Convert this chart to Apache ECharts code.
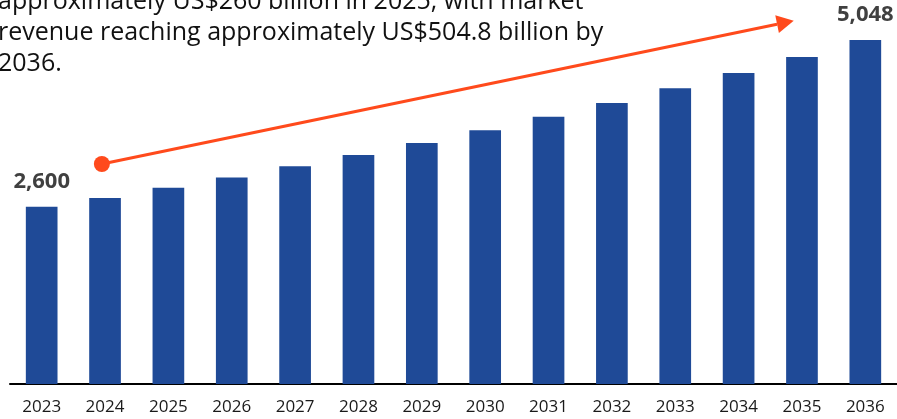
<!DOCTYPE html>
<html>
<head>
<meta charset="utf-8">
<script src="https://cdn.jsdelivr.net/npm/echarts@6/dist/echarts.min.js"></script>
<style>
  html, body { margin: 0; padding: 0; background: #fff; }
  #chart { width: 897px; height: 419px; }
</style>
</head>
<body>
<div id="chart"></div>
<script>
// Market revenue by year (US$100 million)
const years = ['2023', '2024', '2025', '2026', '2027', '2028', '2029',
               '2030', '2031', '2032', '2033', '2034', '2035', '2036'];
const revenue = [2600, 2730, 2880, 3030, 3195, 3360, 3535,
                 3725, 3920, 4125, 4340, 4565, 4800, 5048];
// Values shown as labels on the bars
const labelledYears = ['2023', '2036'];
// Growth arrow endpoints: [category position, value]
const arrowStart = [0.95, 3228];
const arrowEnd = [11.87, 5331];
// Caption lines
const captionLines = [
  'approximately US$260 billion in 2025, with market',
  'revenue reaching approximately US$504.8 billion by',
  '2036.'
];

const FONT = '"Open Sans", "Noto Sans", sans-serif';
const ARROW_COLOR = '#ff4a1c';
const fmt = v => String(v).replace(/\B(?=(\d{3})+(?!\d))/g, ',');

const chart = echarts.init(document.getElementById('chart'), null, { renderer: 'canvas' });

chart.setOption({
  animation: false,
  backgroundColor: '#ffffff',
  title: {
    text: captionLines.join('\n'),
    left: -2,
    top: -14,
    padding: 0,
    textStyle: {
      fontFamily: FONT,
      fontSize: 25,
      fontWeight: 'normal',
      lineHeight: 31,
      color: '#111111'
    }
  },
  grid: { left: 10, right: -1, top: 40, bottom: 35, containLabel: false },
  xAxis: {
    type: 'category',
    data: years,
    axisLine: { lineStyle: { color: '#000000', width: 2 } },
    axisTick: { show: false },
    axisLabel: { fontFamily: FONT, fontSize: 17, color: '#1a1a1a', margin: 15 }
  },
  yAxis: {
    type: 'value',
    min: 0,
    max: 5048,
    show: false,
    splitLine: { show: false }
  },
  series: [{
    type: 'bar',
    data: revenue.map((v, i) => ({
      value: v,
      label: { show: labelledYears.includes(years[i]) }
    })),
    barWidth: '50%',
    itemStyle: { color: '#1f4a97' },
    label: {
      position: 'top',
      distance: 14,
      fontFamily: FONT,
      fontSize: 22,
      fontWeight: 'bold',
      color: '#404040',
      formatter: p => fmt(p.value)
    }
  }]
});

// Map a [fractional category index, value] pair to pixels through the axes
function toPixel(pt) {
  const i0 = Math.floor(pt[0]);
  const t = pt[0] - i0;
  const a = chart.convertToPixel({ gridIndex: 0 }, [years[i0], pt[1]]);
  const b = chart.convertToPixel({ gridIndex: 0 }, [years[i0 + 1], pt[1]]);
  return [a[0] + (b[0] - a[0]) * t, a[1]];
}

// Growth arrow: dot at the start, line, and a triangular head at the end
const p0 = toPixel(arrowStart);
const p1 = toPixel(arrowEnd);
const ang = Math.atan2(p1[1] - p0[1], p1[0] - p0[0]);
const headLen = 17, headHalf = 9;
const base = [p1[0] - headLen * Math.cos(ang), p1[1] - headLen * Math.sin(ang)];
const nx = -Math.sin(ang), ny = Math.cos(ang);

chart.setOption({
  graphic: [
    {
      type: 'line',
      shape: { x1: p0[0], y1: p0[1], x2: base[0], y2: base[1] },
      style: { stroke: ARROW_COLOR, lineWidth: 3 },
      z: 10
    },
    {
      type: 'circle',
      shape: { cx: p0[0], cy: p0[1], r: 8 },
      style: { fill: ARROW_COLOR },
      z: 11
    },
    {
      type: 'polygon',
      shape: {
        points: [
          [p1[0], p1[1]],
          [base[0] + nx * headHalf, base[1] + ny * headHalf],
          [base[0] - nx * headHalf, base[1] - ny * headHalf]
        ]
      },
      style: { fill: ARROW_COLOR },
      z: 11
    }
  ]
});
</script>
</body>
</html>
